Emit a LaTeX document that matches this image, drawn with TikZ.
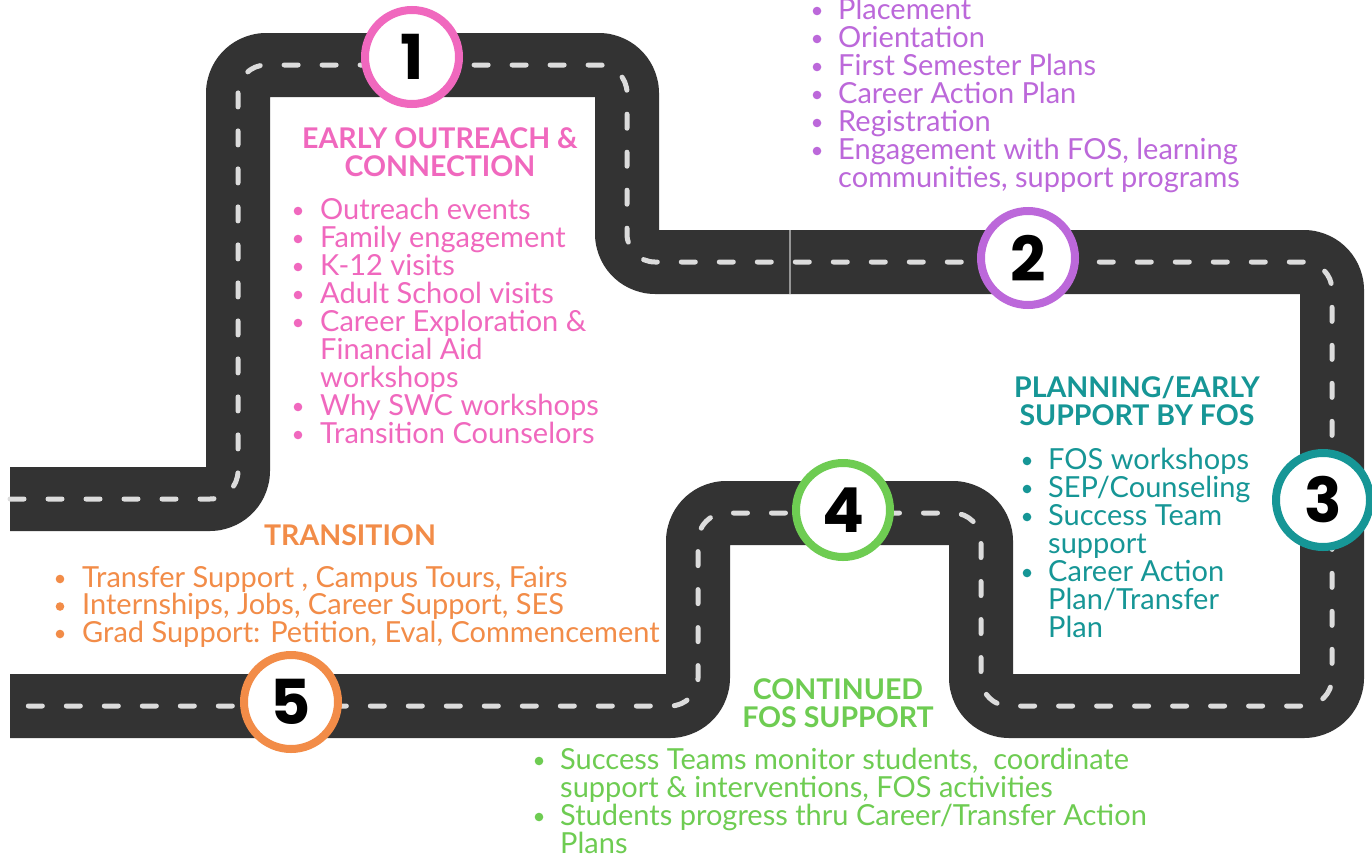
\documentclass[tikz,border=0pt]{standalone}
\usepackage{fontspec}
\setmainfont{Lato}
\newfontfamily\numfont{Poppins}
\definecolor{roadc}{RGB}{51,51,51}
\definecolor{dashc}{RGB}{220,220,220}
\definecolor{pinkc}{RGB}{240,104,190}
\definecolor{purplec}{RGB}{188,104,218}
\definecolor{tealc}{RGB}{22,150,150}
\definecolor{orangec}{RGB}{242,140,72}
\definecolor{greenc}{RGB}{110,204,82}
\newcommand\li[1]{\smash{#1}}
\tikzset{
  road/.style={draw=roadc, line width=64pt, rounded corners=28pt, line cap=butt, line join=round},
  lane/.style={draw=dashc, line width=5pt, rounded corners=28pt, line cap=round, dash pattern=on 14pt off 24pt},
  stop/.style={circle, fill=white, line width=8pt, minimum size=94pt, inner sep=0pt, font=\numfont\fontsize{62}{62}\selectfont\bfseries},
  body/.style={anchor=base west, inner sep=0pt, font=\fontsize{29}{28}\selectfont},
  head/.style={anchor=base, inner sep=0pt, align=center, font=\fontsize{28.5}{28}\selectfont\bfseries},
}
\begin{document}
\begin{tikzpicture}[x=1pt,y=-1pt]
\useasboundingbox[fill=white] (0,0) rectangle (1372,854);
% road
\draw[road] (10,499) -- (238,499) -- (238,65) -- (627,65) -- (627,262) -- (1332,262) -- (1332,706) -- (981,706) -- (981,513) -- (698,513) -- (698,706) -- (10,706);
\draw[lane] (10,499) -- (238,499) -- (238,65) -- (627,65) -- (627,262) -- (1332,262) -- (1332,706) -- (981,706) -- (981,513) -- (698,513) -- (698,706) -- (10,706);
\draw[draw={rgb,255:red,150;green,150;blue,150}, line width=1.5pt] (790,230) -- (790,294);
% stops
\node[stop, draw=pinkc] (n1) at (412,57) {1};
\node[stop, draw=purplec] (n2) at (1028,258) {2};
\node[stop, draw=tealc] (n3) at (1323,500) {3};
\node[stop, draw=greenc] (n4) at (843,510) {4};
\node[stop, draw=orangec] (n5) at (291,702) {5};
% pink
\node[head, text=pinkc] (t1) at (440,176) {EARLY OUTREACH \&\\CONNECTION};
\node[body, text=pinkc] (l1) at (320,219) {\begin{tabular}[t]{@{}l@{}}
\li{Outreach events}\\
\li{Family engagement}\\
\li{K-12 visits}\\
\li{Adult School visits}\\
\li{Career Exploration \&}\\
\li{Financial Aid}\\
\li{workshops}\\
\li{Why SWC workshops}\\
\li{Transition Counselors}
\end{tabular}};
\foreach \r in {0,1,2,3,4,7,8} \fill[pinkc] (298,{211+28*\r}) circle (4.3);
% purple
\node[body, text=purplec] (l2) at (838,19) {\begin{tabular}[t]{@{}l@{}}
\li{Placement}\\
\li{Orientation}\\
\li{First Semester Plans}\\
\li{Career Action Plan}\\
\li{Registration}\\
\li{Engagement with FOS, learning}\\
\li{communities, support programs}
\end{tabular}};
\foreach \r in {0,1,2,3,4,5} \fill[purplec] (817,{11+28*\r}) circle (4.3);
% teal
\node[head, text=tealc] (t3) at (1137,425) {PLANNING/EARLY\\SUPPORT BY FOS};
\node[body, text=tealc] (l3) at (1048,469) {\begin{tabular}[t]{@{}l@{}}
\li{FOS workshops}\\
\li{SEP/Counseling}\\
\li{Success Team}\\
\li{support}\\
\li{Career Action}\\
\li{Plan/Transfer}\\
\li{Plan}
\end{tabular}};
\foreach \r in {0,1,2,4} \fill[tealc] (1027,{461+28*\r}) circle (4.3);
% orange
\node[head, text=orangec] (t5) at (350,545) {TRANSITION};
\node[body, text=orangec, font=\fontsize{29}{27.5}\selectfont] (l5) at (82,587) {\begin{tabular}[t]{@{}l@{}}
\li{Transfer Support , Campus Tours, Fairs}\\
\li{Internships, Jobs, Career Support, SES}\\
\li{Grad Support: Petition, Eval, Commencement}
\end{tabular}};
\foreach \r in {0,1,2} \fill[orangec] (60,{579+27.5*\r}) circle (4.3);
% green
\node[head, text=greenc] (t4) at (838,727) {CONTINUED\\FOS SUPPORT};
\node[body, text=greenc] (l4) at (560,769) {\begin{tabular}[t]{@{}l@{}}
\li{Success Teams monitor students,\ \ coordinate}\\
\li{support \& interventions, FOS activities}\\
\li{Students progress thru Career/Transfer Action}\\
\li{Plans}
\end{tabular}};
\foreach \r in {0,2} \fill[greenc] (539,{761+28*\r}) circle (4.3);
\end{tikzpicture}
\end{document}
